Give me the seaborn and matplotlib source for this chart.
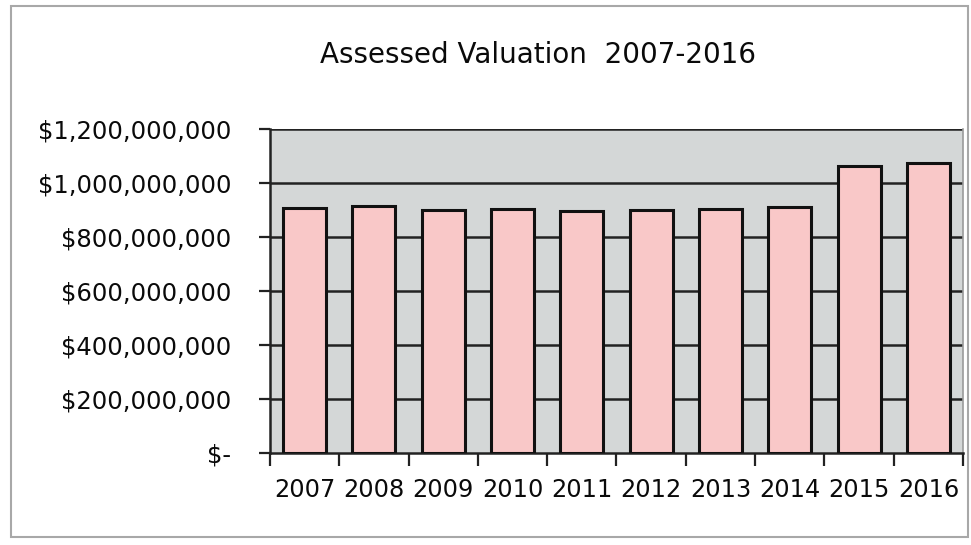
import matplotlib
matplotlib.use("Agg")
import matplotlib.pyplot as plt
import matplotlib.ticker as mticker
from matplotlib.patches import Rectangle
import seaborn as sns
import pandas as pd

years = ["2007", "2008", "2009", "2010", "2011", "2012", "2013", "2014", "2015", "2016"]
valuation = [907e6, 917e6, 900e6, 905e6, 896e6, 901e6, 905e6, 911e6, 1065e6, 1074e6]
y_ticks = [0, 200e6, 400e6, 600e6, 800e6, 1000e6, 1200e6]

df = pd.DataFrame({"year": years, "value": valuation})

sns.set_theme(style="white")
plt.rcParams["font.family"] = ["DejaVu Sans"]

fig = plt.figure(figsize=(9.71, 5.45), dpi=100)
fig.patch.set_facecolor("white")
ax = fig.add_axes([0.278, 0.168, 0.9918 - 0.278, 0.7628 - 0.168])
ax.set_facecolor("#d4d7d7")

sns.barplot(data=df, x="year", y="value", color="#f9c8c8", edgecolor="#111111",
            linewidth=2.2, width=0.62, saturation=1, ax=ax, zorder=3)

ax.set_xlim(-0.5, len(years) - 0.5)
ax.set_ylim(0, 1200e6)
ax.set_yticks(y_ticks)
ax.yaxis.set_major_formatter(
    mticker.FuncFormatter(lambda v, _: "$-" if v == 0 else f"${v:,.0f}"))
for t in y_ticks[1:]:
    ax.axhline(t, color="#222222", lw=1.8, zorder=1)

# category boundaries carry the tick marks, labels sit at category centres
ax.set_xticks([i - 0.5 for i in range(len(years) + 1)])
ax.set_xticklabels([])
ax.set_xticks(range(len(years)), minor=True)
ax.set_xticklabels(years, minor=True)
ax.tick_params(axis="x", which="major", direction="out", length=9, width=1.6,
               color="#222222", bottom=True)
ax.tick_params(axis="x", which="minor", length=0, pad=18, labelsize=17.3,
               labelcolor="#0a0a0a")
ax.tick_params(axis="y", direction="out", length=8, width=1.6, color="#222222",
               left=True, pad=20, labelsize=17.5, labelcolor="#0a0a0a")
ax.set_xlabel("")
ax.set_ylabel("")

for side in ("left", "bottom"):
    ax.spines[side].set_color("#222222")
    ax.spines[side].set_linewidth(1.8)
ax.spines["top"].set_visible(False)
ax.spines["right"].set_color("#9a9a9a")
ax.spines["right"].set_linewidth(1.2)

fig.text(0.554, 0.899, "Assessed Valuation  2007-2016", ha="center", va="center",
         fontsize=20, color="#0a0a0a")

fig.patches.append(Rectangle((0.011, 0.014), 0.986, 0.975, transform=fig.transFigure,
                             fill=False, edgecolor="#a8a8a8", linewidth=1.5))

fig.savefig("out.png", dpi=100, facecolor="white")
